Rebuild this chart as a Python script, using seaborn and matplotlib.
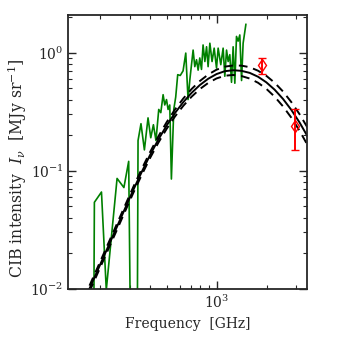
import numpy as np
import pandas as pd
import matplotlib
matplotlib.use("Agg")
import matplotlib.pyplot as plt
from matplotlib.ticker import NullFormatter, LogLocator
import seaborn as sns

# Noisy measured spectrum (GHz, MJy/sr); 1e-4 marks points below the axis
spec_freq = [180, 184, 203, 217, 252, 277, 296, 312, 330, 337, 351, 368, 387, 402,
             417, 432, 449, 462, 477, 488, 500, 511, 523, 535, 553, 568, 584, 605,
             629, 653, 674, 691, 723, 740, 758, 775, 793, 812, 830, 851, 871, 890,
             912, 940, 968, 1000, 1023, 1061, 1096, 1122, 1149, 1175, 1202, 1231,
             1259, 1289, 1319, 1349, 1381, 1415, 1446, 1503]
spec_val = [1e-4, 0.054, 0.066, 0.0098, 0.086, 0.072, 0.12, 1e-4, 1e-4, 0.18, 0.25,
            0.15, 0.28, 0.19, 0.245, 0.18, 0.33, 0.31, 0.44, 0.36, 0.40, 0.33, 0.36,
            0.085, 0.33, 0.42, 0.65, 0.64, 0.70, 0.99, 0.40, 0.59, 1.05, 0.76, 0.87,
            0.71, 0.90, 0.72, 1.16, 0.84, 1.12, 0.76, 1.20, 0.84, 1.09, 0.74, 1.09,
            0.79, 1.09, 0.63, 1.05, 0.84, 0.96, 0.56, 1.12, 0.55, 1.37, 1.25, 1.41,
            0.58, 1.20, 1.74]

# Model curve and its upper / lower envelope
model_freq = [158.5, 177.8, 199.5, 223.9, 251.2, 281.8, 316.2, 354.8, 398.1, 446.7,
              501.2, 562.3, 631.0, 707.9, 794.3, 891.3, 1000, 1122, 1259, 1413,
              1585, 1778, 1995, 2239, 2512, 2818, 3162, 3548]
model_val = [0.00774, 0.01116, 0.01607, 0.02317, 0.03334, 0.04808, 0.06918, 0.09772,
             0.1357, 0.1837, 0.2415, 0.3080, 0.3805, 0.4560, 0.5314, 0.6006, 0.6577,
             0.6958, 0.7087, 0.7006, 0.6730, 0.6244, 0.5598, 0.4847, 0.4055, 0.3278,
             0.2559, 0.1930]
model_hi = [0.00820, 0.01182, 0.01702, 0.02454, 0.03532, 0.05093, 0.07328, 0.1035,
            0.1437, 0.1953, 0.2576, 0.3297, 0.4087, 0.4914, 0.5747, 0.6518, 0.7162,
            0.7603, 0.7771, 0.7753, 0.7517, 0.7022, 0.6354, 0.5552, 0.4688, 0.3816,
            0.3007, 0.2289]
model_lo = [0.00731, 0.01054, 0.01517, 0.02187, 0.03147, 0.04539, 0.06531, 0.09225,
            0.1281, 0.1728, 0.2264, 0.2878, 0.3543, 0.4231, 0.4914, 0.5534, 0.6040,
            0.6368, 0.6463, 0.6331, 0.6026, 0.5552, 0.4932, 0.4231, 0.3507, 0.2816,
            0.2178, 0.1628]

# Photometric points
pt_freq = [1874, 2972]
pt_val = [0.78, 0.24]
pt_err = [0.12, 0.09]

sns.set_style("ticks")
plt.rcParams["font.family"] = ["DejaVu Serif"]
plt.rcParams["mathtext.fontset"] = "dejavuserif"

fig = plt.figure(figsize=(3.41, 3.41), dpi=100)
ax = fig.add_axes([0.200, 0.153, 0.700, 0.803])

spec = pd.DataFrame({"freq": spec_freq, "val": spec_val})
sns.lineplot(data=spec, x="freq", y="val", sort=False, estimator=None,
             color="green", linewidth=1.2, ax=ax)

model = pd.DataFrame({"freq": model_freq, "val": model_val,
                      "hi": model_hi, "lo": model_lo})
sns.lineplot(data=model, x="freq", y="val", sort=False, estimator=None,
             color="black", linewidth=1.4, ax=ax)
for col in ["hi", "lo"]:
    sns.lineplot(data=model, x="freq", y=col, sort=False, estimator=None,
                 color="black", linewidth=1.4, dashes=False, ax=ax,
                 linestyle=(0, (4.5, 3)))

ax.errorbar(pt_freq, pt_val, yerr=pt_err, fmt="d", mfc="none", mec="red",
            ecolor="red", color="red", ms=6, mew=1.0, elinewidth=1.4,
            capsize=3, capthick=1.2)

ax.set_xscale("log")
ax.set_yscale("log")
ax.set_xlim(128, 3500)
ax.set_ylim(1e-2, 2.08)
ax.xaxis.set_minor_formatter(NullFormatter())
ax.yaxis.set_minor_locator(LogLocator(base=10, subs=np.arange(2, 10)))

ax.tick_params(which="both", direction="in", top=True, right=True, labelsize=10)
ax.tick_params(which="major", length=6, width=1)
ax.tick_params(which="minor", length=3, width=0.8)
for s in ax.spines.values():
    s.set_linewidth(1.3)

ax.set_xlabel("Frequency  [GHz]", fontsize=10)
ax.set_ylabel(r"CIB intensity  $I_\nu$  [MJy sr$^{-1}$]", fontsize=11.3)
ax.yaxis.set_label_coords(-0.165, 0.44)

fig.savefig("out.png", dpi=100)
